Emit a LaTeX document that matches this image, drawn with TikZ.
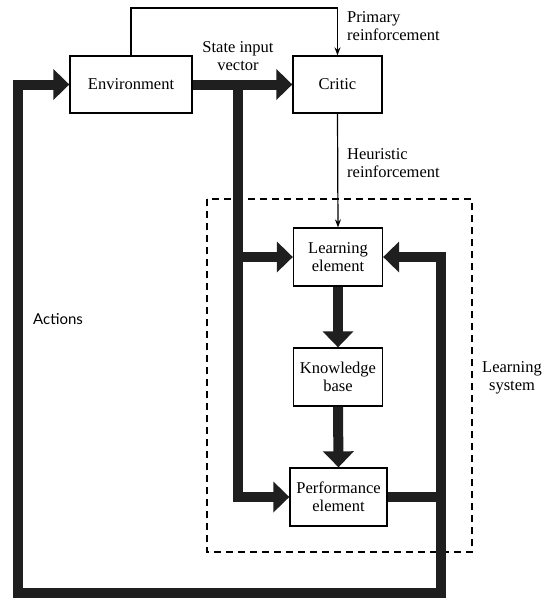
\documentclass[tikz,border=0pt]{standalone}
\usepackage{fontspec}
\setmainfont{Liberation Serif}
\newfontfamily\boxserif{Liberation Serif}
\newfontfamily\labelsans{Lato}
\usetikzlibrary{arrows.meta}

\begin{document}
\begin{tikzpicture}[x=1pt,y=-1pt,
  txt/.style={font=\boxserif\fontsize{16.5}{18.5}\selectfont},
  box/.style={txt, draw, line width=1.3pt, minimum height=57pt, inner sep=2pt, align=center},
  lbl/.style={txt, inner sep=0pt},
  flow/.style={line width=10pt, draw=black!88},
  flowarrow/.style={flow, -{Triangle[length=16pt,width=30pt]}},
  thinline/.style={line width=1.2pt},
  thinarrow/.style={thinline, -{Stealth[length=8pt,width=6pt]}},
  sysframe/.style={line width=1.3pt, dash pattern=on 7pt off 5pt},
]
\useasboundingbox (0,0) rectangle (545,598);

% blocks
\node[box, minimum width=122pt] (env)    at (131,84.5)  {Environment};
\node[box, minimum width=89pt]  (critic) at (337.5,84.5){Critic};
\node[box, minimum width=89pt, minimum height=58pt] (learn) at (338,257) {Learning\\element};
\node[box, minimum width=89pt, minimum height=58pt] (kb)    at (338,377) {Knowledge\\base};
\node[box, minimum width=97pt, minimum height=58pt] (perf)  at (338.5,497) {Performance\\element};

% learning system frame
\draw[sysframe] (207,199) rectangle (472,552);

% routing points
\coordinate (prim)  at (337.5,8);
\coordinate (split) at (238,84.5);
\coordinate (tapL)  at (238,257);
\coordinate (downL) at (238,497);
\coordinate (outR)  at (441,497);
\coordinate (topR)  at (441,257);
\coordinate (botR)  at (441,593);
\coordinate (botL)  at (18,593);
\coordinate (topL)  at (18,84.5);

% reinforcement signals
\draw[thinarrow] (env.north) |- (prim) -- (critic.north);
\draw[thinarrow] (critic.south) -- (learn.north);

% state vector and its branches
\draw[flowarrow] (env.east) -- (critic.west);
\draw[flowarrow] (split) -- (downL) -- (perf.west);
\draw[flowarrow] (tapL) -- (learn.west);

% internal flow
\draw[flowarrow] (learn.south) -- (kb.north);
\draw[flowarrow] (kb.south) -- (perf.north);

% actions loop
\draw[flow] (perf.east) -- (outR);
\draw[flow, {Triangle[length=16pt,width=30pt]}-{Triangle[length=16pt,width=30pt]}]
  (env.west) -- (topL) -- (botL) -- (botR) -- (topR) -- (learn.east);

% labels
\node[lbl, align=center] at (238,56) {State input\\vector};
\node[lbl, align=left, anchor=west] at (347,26) {Primary\\reinforcement};
\node[lbl, align=left, anchor=west] at (347,163) {Heuristic\\reinforcement};
\node[lbl, anchor=west, font=\labelsans\fontsize{15}{18}\selectfont] at (33,319) {Actions};
\node[lbl, align=center] at (512,378) {Learning\\system};
\end{tikzpicture}
\end{document}
